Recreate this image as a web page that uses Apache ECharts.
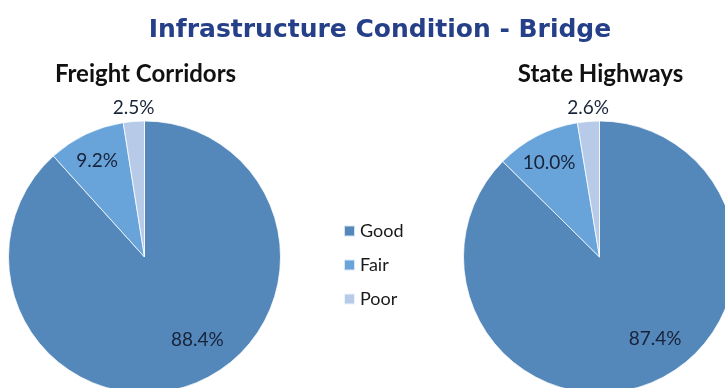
<!DOCTYPE html>
<html>
<head>
<meta charset="utf-8">
<script src="https://cdn.jsdelivr.net/npm/echarts@6/dist/echarts.min.js"></script>
<style>
  html, body { margin: 0; padding: 0; background: #ffffff; }
  #chart { width: 725px; height: 388px; }
</style>
</head>
<body>
<div id="chart"></div>
<script>
// Bridge condition shares (%) by category
const categories = ['Good', 'Fair', 'Poor'];
const freightCorridors = [88.4, 9.2, 2.5];
const stateHighways = [87.4, 10.0, 2.6];
const panelTitles = ['Freight Corridors', 'State Highways'];
const mainTitle = 'Infrastructure Condition - Bridge';

// Styling
const sliceColors = ['#5487ba', '#68a4da', '#b7cbe8'];
const labelFont = 'Lato, "Open Sans", sans-serif';
const R = 136;
const panels = [
  { title: panelTitles[0], values: freightCorridors, center: [144.5, 257] },
  { title: panelTitles[1], values: stateHighways, center: [599.5, 257] }
];
// radial position of each category's value label, as a fraction of the pie radius
const labelRadiusFrac = [0.713, 0.785, 1.10];
// small label nudges
const labelNudge = [{ dx: 17, dy: -10 }, { dx: 0, dy: 3 }, { dx: 1, dy: 3 }];

const series = [];

// visible pies
panels.forEach(p => {
  series.push({
    type: 'pie',
    center: p.center,
    radius: [0, R],
    startAngle: 90,
    clockwise: true,
    silent: true,
    label: { show: false },
    labelLine: { show: false },
    itemStyle: { borderColor: 'rgba(255,255,255,0.75)', borderWidth: 1 },
    data: categories.map((c, i) => ({
      name: c, value: p.values[i], itemStyle: { color: sliceColors[i] }
    }))
  });
});

// transparent rings carrying the value labels, one ring per category
panels.forEach(p => {
  categories.forEach((c, k) => {
    const f = labelRadiusFrac[k];
    const band = f < 1 ? [(2 * f - 1) * R, R] : [R, (2 * f - 1) * R];
    const s = {
      type: 'pie',
      center: p.center,
      radius: band,
      startAngle: 90,
      clockwise: true,
      silent: true,
      avoidLabelOverlap: false,
      legendHoverLink: false,
      itemStyle: { color: 'rgba(0,0,0,0)' },
      labelLine: { show: false },
      emphasis: { disabled: true },
      label: {
        show: true,
        position: 'inside',
        color: '#18233a',
        fontFamily: labelFont,
        fontSize: 19,
        formatter: prm => prm.value.toFixed(1) + '%'
      },
      data: categories.map((cc, i) => ({
        name: cc, value: p.values[i], label: { show: i === k },
        itemStyle: { color: 'rgba(0,0,0,0)' }
      }))
    };
    if (labelNudge[k]) s.labelLayout = labelNudge[k];
    series.push(s);
  });
});

const option = {
  backgroundColor: '#ffffff',
  animation: false,
  title: [
    {
      text: mainTitle,
      left: 375, top: 13, textAlign: 'center',
      textStyle: { fontFamily: '"DejaVu Sans", Verdana, sans-serif', fontWeight: 'bold', fontSize: 25, color: '#253f88' }
    },
    ...panels.map(p => ({
      text: p.title,
      left: p.center[0] - 4, top: 57, textAlign: 'center',
      textStyle: { fontFamily: labelFont, fontWeight: 'bold', fontSize: 24, color: '#111111' }
    }))
  ],
  legend: {
    orient: 'vertical',
    left: 338, top: 216,
    itemWidth: 11, itemHeight: 11,
    itemGap: 14,
    icon: 'rect',
    selectedMode: false,
    textStyle: { fontFamily: labelFont, fontSize: 18, color: '#1a1a1a', lineHeight: 20 },
    data: categories.map((c, i) => ({ name: c, itemStyle: { color: sliceColors[i] } }))
  },
  series: series
};

echarts.init(document.getElementById('chart'), null, { renderer: 'canvas' }).setOption(option);
</script>
</body>
</html>
